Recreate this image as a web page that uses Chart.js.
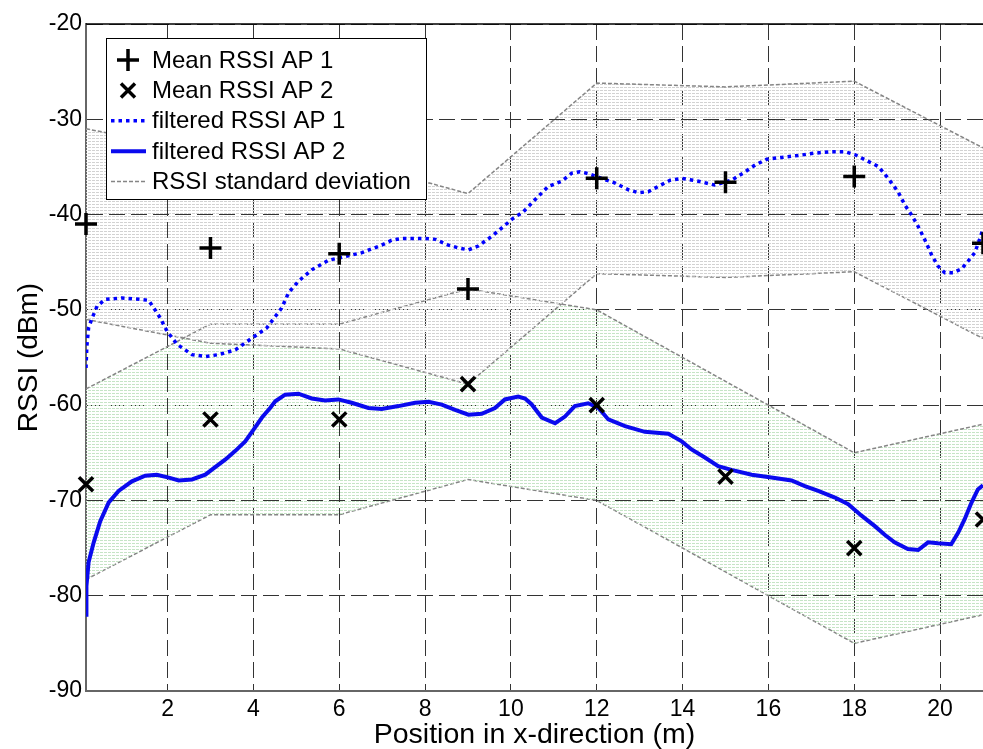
<!DOCTYPE html>
<html>
<head>
<meta charset="utf-8">
<script src="https://cdn.jsdelivr.net/npm/chart.js@4.4.1/dist/chart.umd.min.js"></script>
<style>
  html, body { margin: 0; padding: 0; background: #fff; }
  canvas { display: block; }
</style>
</head>
<body>
<canvas id="chartRssi" width="983" height="749"></canvas>
<script>
/* ===== data ===== */
const seriesNames = ['Mean RSSI AP 1', 'Mean RSSI AP 2', 'filtered RSSI AP 1', 'filtered RSSI AP 2', 'RSSI standard deviation'];

// measurement positions (m)
const posX = [0.1, 3, 6, 9, 12, 15, 18, 21];
const meanAP1 = [-41, -43.5, -44.1, -47.8, -36.2, -36.6, -36, -43];
const meanAP2 = [-68.3, -61.5, -61.5, -57.8, -60, -67.5, -75, -72];
const stdAP1 = [10, 10, 10, 10, 10, 10, 10, 10];
const stdAP2 = [10, 10, 10, 10, 10, 10, 10, 10];

// filtered AP 1 (dotted)
const filtX1 = [0.1, 0.12, 0.16, 0.23, 0.36, 0.55, 0.94, 1.37, 1.56, 1.68, 1.83, 1.99, 2.22, 2.57, 2.88, 3.19, 3.58, 3.97, 4.31, 4.51,
  4.66, 4.82, 5.05, 5.36, 5.75, 6.14, 6.53, 6.99, 7.22, 7.46, 8.0, 8.24, 8.54, 8.78, 9.01, 9.24, 9.55, 9.83, 10.02, 10.29,
  10.56, 10.87, 11.18, 11.42, 11.61, 11.8, 12.11, 12.43, 12.74, 12.97, 13.2, 13.43, 13.71, 13.98, 14.37, 14.75, 15.14, 15.41, 15.69, 15.96,
  16.3, 16.69, 17.08, 17.47, 17.78, 18.01, 18.25, 18.56, 18.79, 19.02, 19.18, 19.33, 19.49, 19.64, 19.8, 19.95, 20.11, 20.3, 20.5, 20.65,
  20.81, 20.92, 21];
const filtY1 = [-56.1, -53.8, -51.9, -51.0, -49.6, -48.9, -48.75, -48.9, -49.0, -49.8, -50.85, -52.25, -53.6, -54.7, -54.9, -54.7, -54.2, -52.95, -51.9, -50.7,
  -49.8, -48.2, -47.0, -45.8, -44.8, -44.4, -44.0, -43.2, -42.7, -42.5, -42.5, -42.6, -43.2, -43.5, -43.7, -43.3, -42.3, -41.25, -40.5, -39.7,
  -38.45, -37.05, -36.5, -35.65, -35.5, -35.7, -36.2, -36.7, -37.4, -37.7, -37.6, -37.05, -36.4, -36.2, -36.5, -36.9, -36.4, -35.65, -34.8, -34.2,
  -34.0, -33.8, -33.55, -33.4, -33.4, -33.7, -34.25, -34.95, -36.2, -37.6, -39.0, -40.0, -41.25, -42.6, -44.2, -45.4, -46.1, -46.1, -45.7, -44.9,
  -44.0, -42.6, -41.5];

// filtered AP 2 (solid)
const filtX2 = [0.1, 0.11, 0.16, 0.28, 0.43, 0.63, 0.86, 1.17, 1.48, 1.75, 2.03, 2.26, 2.57, 2.88, 3.11, 3.35, 3.58, 3.81, 4.0, 4.2,
  4.39, 4.51, 4.74, 5.05, 5.36, 5.67, 5.98, 6.29, 6.68, 6.99, 7.38, 7.77, 8.08, 8.39, 8.7, 9.01, 9.32, 9.63, 9.86, 10.17,
  10.33, 10.48, 10.72, 11.03, 11.26, 11.49, 11.8, 12.04, 12.27, 12.66, 13.12, 13.67, 13.98, 14.21, 14.52, 14.83, 15.14, 15.61, 16.07, 16.54,
  16.85, 17.16, 17.55, 17.86, 18.17, 18.48, 18.71, 18.94, 19.25, 19.49, 19.72, 19.95, 20.26, 20.42, 20.57, 20.73, 20.88, 21];
const filtY2 = [-82, -79, -76.5, -74.4, -72.2, -70.2, -69.0, -68.0, -67.4, -67.3, -67.6, -67.9, -67.8, -67.3, -66.5, -65.7, -64.8, -63.8, -62.6, -61.3,
  -60.3, -59.6, -58.9, -58.8, -59.3, -59.5, -59.4, -59.75, -60.3, -60.4, -60.1, -59.75, -59.65, -59.95, -60.5, -61.0, -60.9, -60.3, -59.4, -59.1,
  -59.3, -59.9, -61.3, -61.9, -61.2, -60.1, -59.8, -60.3, -61.5, -62.2, -62.8, -63.0, -63.8, -64.65, -65.5, -66.4, -66.8, -67.3, -67.6, -67.9,
  -68.5, -69.0, -69.7, -70.4, -71.6, -72.7, -73.6, -74.4, -75.1, -75.2, -74.4, -74.5, -74.6, -73.4, -72.0, -70.25, -68.85, -68.4];

const xTicks = [2, 4, 6, 8, 10, 12, 14, 16, 18, 20];
const yTicks = [-90, -80, -70, -60, -50, -40, -30, -20];

/* ===== helpers ===== */
const FONT = "'Liberation Sans', Arial, sans-serif";
const canvas = document.getElementById('chartRssi');
const ctx = canvas.getContext('2d');

function pts(xs, ys) {
  return xs.map((x, i) => ({ x: x, y: ys[i] }));
}

// thin dotted horizontal hatch, like the matlab patch texture
function hatch(color) {
  const c = document.createElement('canvas');
  c.width = 4; c.height = 3;
  const g = c.getContext('2d');
  g.fillStyle = color;
  g.fillRect(0, 0, 3, 1);
  return ctx.createPattern(c, 'repeat');
}

const bandStyle = {
  showLine: true, pointRadius: 0, borderColor: '#858585', borderWidth: 1.5,
  borderDash: [4, 2], order: 2
};

/* ===== frame + legend ===== */
const frame = {
  id: 'frame',
  afterDraw(chart) {
    const a = chart.chartArea;
    const c = chart.ctx;
    c.save();
    c.strokeStyle = '#000';
    c.lineWidth = 1.5;
    c.beginPath();
    c.moveTo(a.left, a.top);
    c.lineTo(a.right, a.top);
    c.stroke();
    c.restore();
  }
};

const legendBox = {
  id: 'legendBox',
  afterDatasetsDraw(chart) {
    const c = chart.ctx;
    const x0 = 106, y0 = 38, w = 320, h = 161;
    c.save();
    c.fillStyle = '#fff';
    c.fillRect(x0, y0, w, h);
    c.strokeStyle = '#000';
    c.lineWidth = 1;
    c.strokeRect(x0 + 0.5, y0 + 0.5, w, h);

    const sx = 128, tx = 152;
    c.font = '24px ' + FONT;
    c.textBaseline = 'middle';
    c.fillStyle = '#000';
    seriesNames.forEach((name, i) => {
      const y = 60 + i * 30.4;
      c.save();
      c.lineCap = 'butt';
      if (i === 0) {
        c.strokeStyle = '#000'; c.lineWidth = 3.5;
        c.beginPath();
        c.moveTo(sx - 11, y); c.lineTo(sx + 11, y);
        c.moveTo(sx, y - 11); c.lineTo(sx, y + 11);
        c.stroke();
      } else if (i === 1) {
        c.strokeStyle = '#000'; c.lineWidth = 3.5;
        c.beginPath();
        c.moveTo(sx - 7, y - 7); c.lineTo(sx + 7, y + 7);
        c.moveTo(sx - 7, y + 7); c.lineTo(sx + 7, y - 7);
        c.stroke();
      } else {
        const ds = [null, null, chart.data.datasets[4], chart.data.datasets[5], chart.data.datasets[0]][i];
        c.strokeStyle = ds.borderColor;
        c.lineWidth = ds.borderWidth;
        c.setLineDash(ds.borderDash || []);
        c.beginPath();
        c.moveTo(sx - 17, y); c.lineTo(sx + 18, y);
        c.stroke();
      }
      c.restore();
      c.fillText(name, tx, y + 1);
    });
    c.restore();
  }
};

/* ===== chart ===== */
const chartRssi = new Chart(ctx, {
  type: 'scatter',
  data: {
    datasets: [
      Object.assign({ label: 'AP1 +std', data: pts(posX, meanAP1.map((m, i) => m + stdAP1[i])),
        fill: '+1', backgroundColor: hatch('#d2d2d2') }, bandStyle),
      Object.assign({ label: 'AP1 -std', data: pts(posX, meanAP1.map((m, i) => m - stdAP1[i])) }, bandStyle),
      Object.assign({ label: 'AP2 +std', data: pts(posX, meanAP2.map((m, i) => m + stdAP2[i])),
        fill: '+1', backgroundColor: hatch('#c6e4c6') }, bandStyle),
      Object.assign({ label: 'AP2 -std', data: pts(posX, meanAP2.map((m, i) => m - stdAP2[i])) }, bandStyle),
      {
        label: seriesNames[2], data: pts(filtX1, filtY1), showLine: true, pointRadius: 0,
        borderColor: '#0000ff', borderWidth: 3.5, borderDash: [3.5, 4], order: 1
      },
      {
        label: seriesNames[3], data: pts(filtX2, filtY2), showLine: true, pointRadius: 0,
        borderColor: '#0a0aee', borderWidth: 4, order: 1
      },
      {
        label: seriesNames[0], data: pts(posX, meanAP1), pointStyle: 'cross', pointRadius: 11,
        borderColor: '#000', backgroundColor: '#000', pointBorderWidth: 3.5, clip: false, order: 0
      },
      {
        label: seriesNames[1], data: pts(posX, meanAP2), pointStyle: 'crossRot', pointRadius: 10,
        borderColor: '#000', backgroundColor: '#000', pointBorderWidth: 3.5, clip: false, order: 0
      }
    ]
  },
  options: {
    responsive: false,
    animation: false,
    layout: { autoPadding: false, padding: { top: 24, right: 0, left: 0, bottom: 0 } },
    plugins: {
      legend: { display: false },
      tooltip: { enabled: false }
    },
    scales: {
      x: {
        type: 'linear', min: 0.1, max: 21,
        afterBuildTicks: s => { s.ticks = xTicks.map(v => ({ value: v })); },
        afterFit: s => { s.height = 58; s.paddingLeft = 0; s.paddingRight = 0; },
        ticks: { color: '#000', font: { family: FONT, size: 23 }, padding: 5, maxRotation: 0 },
        grid: { color: '#333', lineWidth: 1, drawTicks: false },
        border: { display: true, color: '#666', width: 2, dash: [16, 6] },
        title: {
          display: true, text: 'Position in x-direction (m)', color: '#000',
          font: { family: FONT, size: 28.5, lineHeight: 1 }, padding: { top: 0, bottom: 0 }
        }
      },
      y: {
        min: -90, max: -20,
        afterBuildTicks: s => { s.ticks = yTicks.map(v => ({ value: v })); },
        afterFit: s => { s.width = 86; s.paddingTop = 0; s.paddingBottom = 0; },
        ticks: { color: '#000', font: { family: FONT, size: 23 }, padding: 4 },
        grid: { color: '#333', lineWidth: 1, drawTicks: false },
        border: { display: true, color: '#666', width: 2, dash: [16, 6] },
        title: {
          display: true, text: 'RSSI (dBm)', color: '#000',
          font: { family: FONT, size: 28, lineHeight: 1 }, padding: { top: 15, bottom: 0 }
        }
      }
    }
  },
  plugins: [frame, legendBox]
});
</script>
</body>
</html>
